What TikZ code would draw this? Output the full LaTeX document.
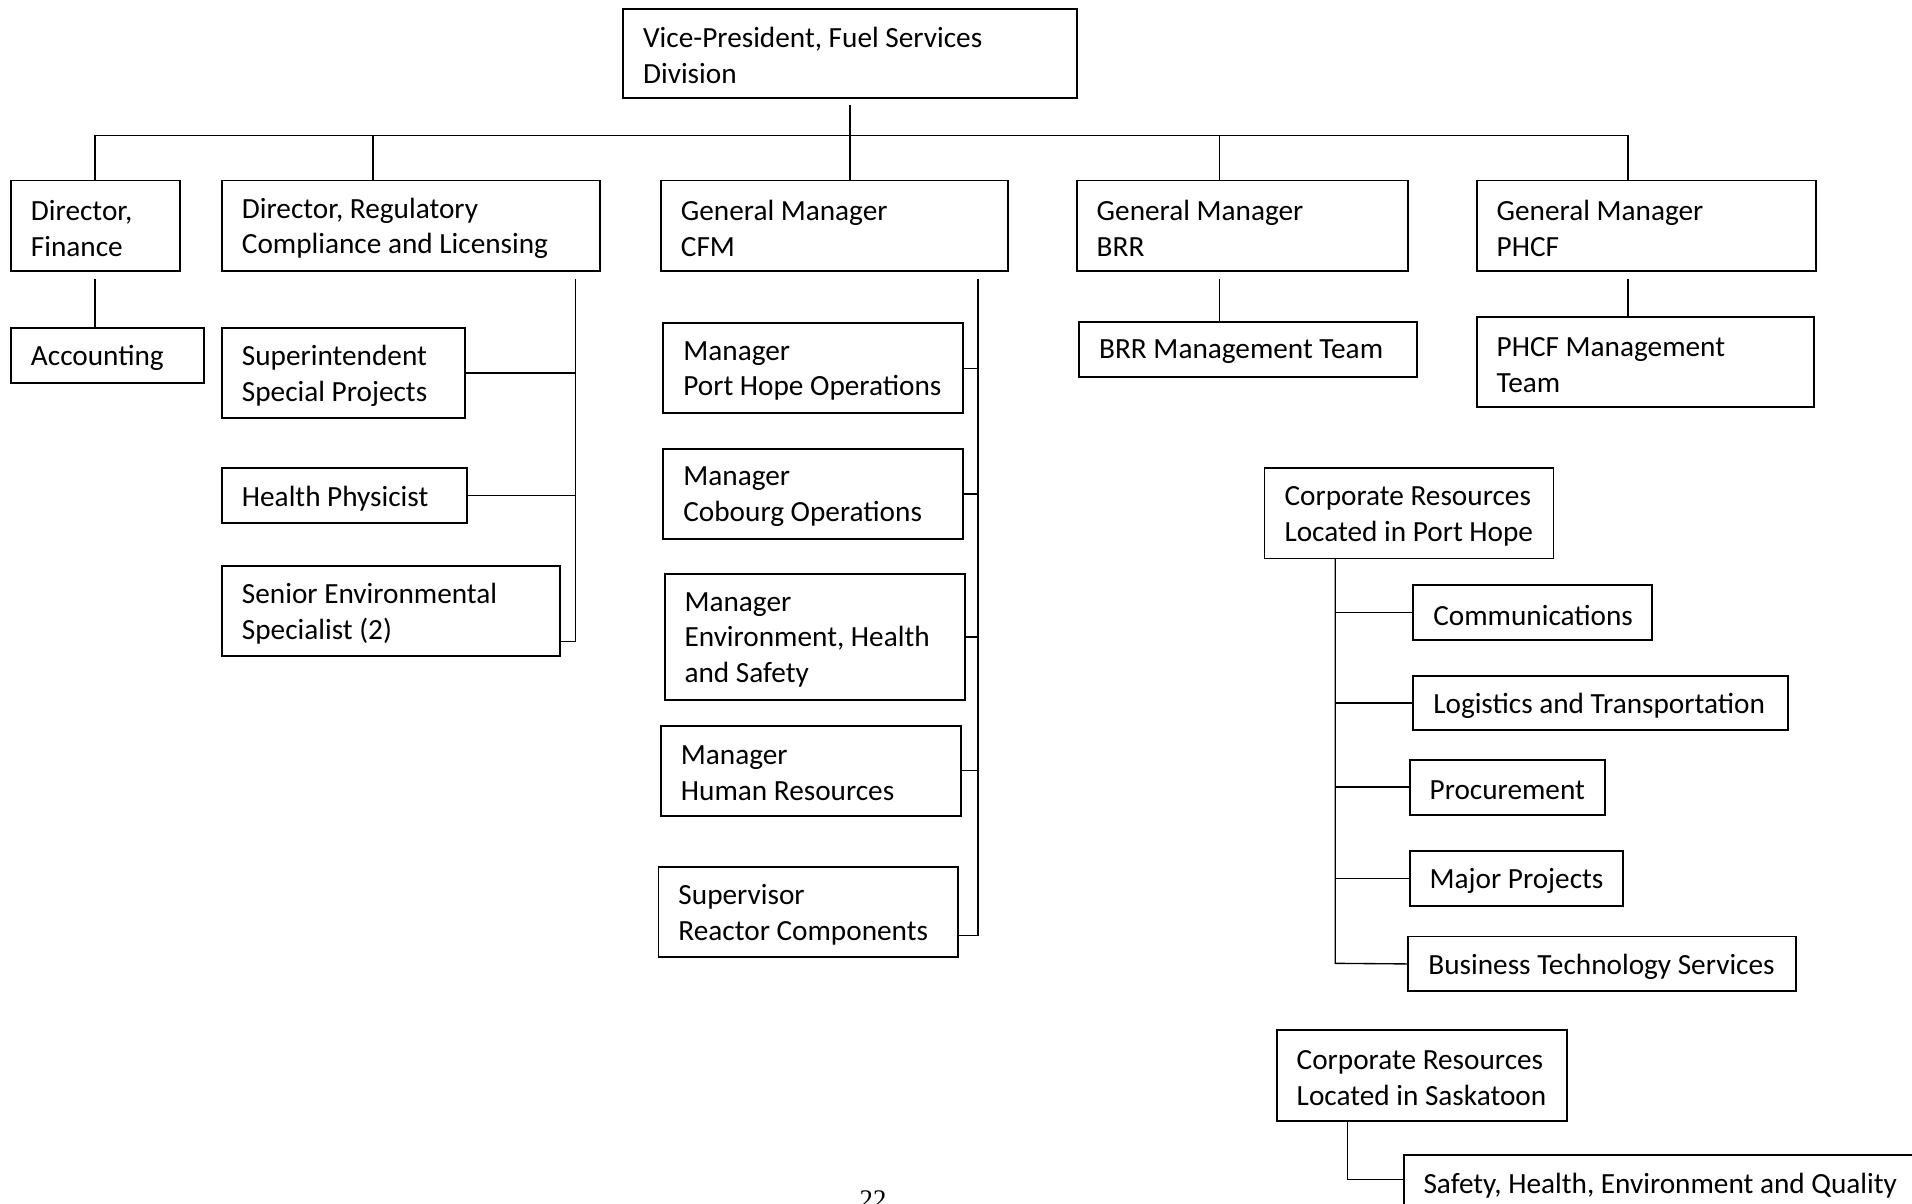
\documentclass[tikz,border=0pt]{standalone}
\usepackage{fontspec}
\setmainfont{Carlito}
\newfontfamily\pgnumfont{Liberation Serif}
\tikzset{
  box/.style={draw, line width=0.8pt, inner sep=0pt, outer sep=0pt},
  lbl/.style={anchor=west, align=left, inner sep=0pt, outer sep=0pt, font=\fontsize{12}{14.6}\selectfont},
  conn/.style={draw, line width=0.55pt}
}
% name, x1, y1, x2, y2, text
\newcommand{\orgbox}[6]{%
  \pgfmathsetlengthmacro{\bxw}{(#4-#2)*0.5pt}%
  \pgfmathsetlengthmacro{\bxh}{(#5-#3)*0.5pt}%
  \node[box, minimum width=\bxw, minimum height=\bxh, anchor=north west] (#1) at (#2,#3) {};
  \node[lbl] (#1-t) at ([xshift=8.2pt, yshift=-1.1pt]#1.west) {#6};
}
\begin{document}
\begin{tikzpicture}[x=0.5pt, y=-0.5pt]
\clip (0,0) rectangle (1568,987);
\fill[white] (0,0) rectangle (1568,987);

\orgbox{vp}{511}{7}{883}{80}{Vice-President, Fuel Services\\Division}
\orgbox{fin}{9}{148}{148}{222}{Director,\\Finance}
\orgbox{reg}{182}{148}{492}{222}{Director, Regulatory\\Compliance and Licensing}
\orgbox{cfm}{542}{148}{827}{222}{General Manager\\CFM}
\orgbox{brr}{883}{148}{1155}{222}{General Manager\\BRR}
\orgbox{phcf}{1211}{148}{1489}{222}{General Manager\\PHCF}

\orgbox{acc}{9}{269}{167}{314}{Accounting}
\orgbox{sup}{182}{269}{381}{343}{Superintendent\\Special Projects}
\orgbox{hp}{182}{384}{383}{429}{Health Physicist}
\orgbox{sen}{182}{464}{459}{538}{Senior Environmental\\Specialist (2)}

\orgbox{ph}{544}{265}{790}{339}{Manager\\Port Hope Operations}
\orgbox{cob}{544}{368}{790}{442}{Manager\\Cobourg Operations}
\orgbox{ehs}{545}{471}{791}{574}{Manager\\Environment, Health\\and Safety}
\orgbox{hr}{542}{595}{788}{669}{Manager\\Human Resources}
\orgbox{rc}{540}{711}{786}{785}{Supervisor\\Reactor Components}

\orgbox{brrt}{885}{264}{1162}{309}{BRR Management Team}
\orgbox{phcft}{1211}{260}{1488}{334}{PHCF Management\\Team}

\orgbox{cph}{1037}{384}{1274}{458}{Corporate Resources\\Located in Port Hope}
\orgbox{com}{1159}{480}{1355}{525}{Communications}
\orgbox{logi}{1159}{554}{1466}{599}{Logistics and Transportation}
\orgbox{proc}{1156}{623}{1316}{668}{Procurement}
\orgbox{maj}{1156}{698}{1331}{743}{Major Projects}
\orgbox{bts}{1155}{768}{1473}{813}{Business Technology Services}

\orgbox{csk}{1047}{845}{1285}{919}{Corporate Resources\\Located in Saskatoon}
\orgbox{shq}{1151}{947}{1640}{993}{Safety, Health, Environment and Quality}

% top bus
\coordinate (vpd) at (697,86);
\coordinate (busL) at (78,111);
\coordinate (busR) at (1335,111);
\coordinate (d2) at (306,111);
\coordinate (d4) at (1000,111);
\path[conn] (busL) -- (busR);
\path[conn] (vpd) -- (vpd |- cfm.north);
\path[conn] (busL) -- (busL |- fin.north);
\path[conn] (d2) -- (d2 |- reg.north);
\path[conn] (d4) -- (d4 |- brr.north);
\path[conn] (busR) -- (busR |- phcf.north);

% finance
\coordinate (fs) at (78,229);
\path[conn] (fs) -- (fs |- acc.north);

% regulatory
\coordinate (rs) at (472,229);
\coordinate (rsb) at (472,526);
\path[conn] (rs) -- (rsb) -- (rsb -| sen.east);
\path[conn] (sup.east) -- (sup.east -| rs);
\path[conn] (hp.east) -- (hp.east -| rs);

% CFM
\coordinate (cs) at (802,229);
\coordinate (csb) at (802,767);
\path[conn] (cs) -- (csb) -- (csb -| rc.east);
\path[conn] (ph.east) -- (ph.east -| cs);
\path[conn] (cob.east) -- (cob.east -| cs);
\path[conn] (ehs.east) -- (ehs.east -| cs);
\path[conn] (hr.east) -- (hr.east -| cs);

% BRR, PHCF
\coordinate (bs) at (1000,229);
\path[conn] (bs) -- (bs |- brrt.north);
\coordinate (ps) at (1335,229);
\path[conn] (ps) -- (ps |- phcft.north);

% Port Hope corporate resources
\coordinate (cps) at (1095,458);
\coordinate (cpb) at (1095,790);
\path[conn] (cps) -- (cpb) -- (bts.west);
\path[conn] (com.west) -- (com.west -| cps);
\path[conn] (logi.west) -- (logi.west -| cps);
\path[conn] (proc.west) -- (proc.west -| cps);
\path[conn] (maj.west) -- (maj.west -| cps);

% Saskatoon
\coordinate (sks) at (1105,919);
\coordinate (skb) at (1105,967);
\path[conn] (sks) -- (skb) -- (skb -| shq.west);

% page number (cut off at the bottom edge, as in the reference)
\node[anchor=north, inner sep=0pt, font=\pgnumfont\fontsize{11}{13}\selectfont] (pg) at (716,976) {22};
\end{tikzpicture}
\end{document}
